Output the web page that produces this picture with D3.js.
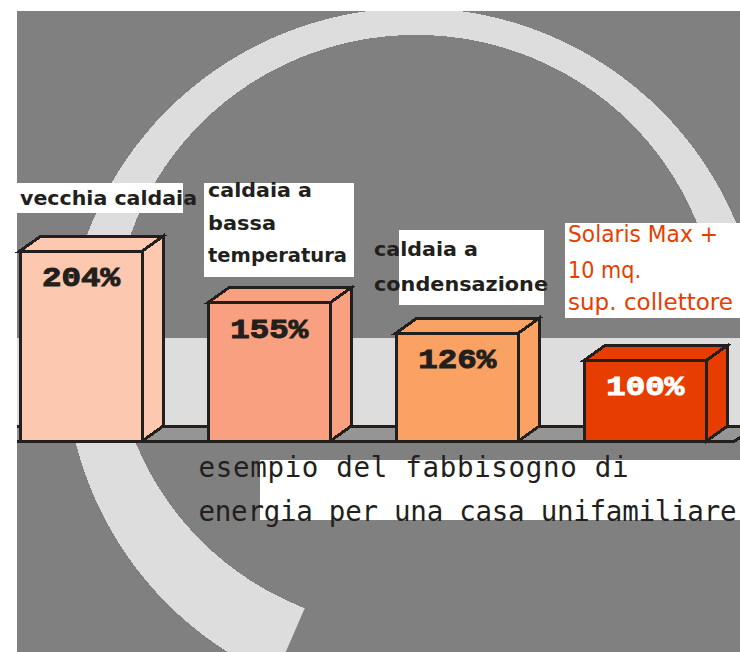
<!DOCTYPE html>
<html><head><meta charset="utf-8">
<script src="https://cdn.jsdelivr.net/npm/d3@7"></script>
<style>html,body{margin:0;padding:0;background:#fff;} svg{display:block}</style>
</head><body><svg id="c" width="740" height="652"></svg>
<script>
// ---------- data ----------
const categories = ["vecchia caldaia", "caldaia a bassa temperatura", "caldaia a condensazione", "Solaris Max + 10 mq. sup. collettore"];
const values = [204, 155, 126, 100];
const valueLabels = ["204%", "155%", "126%", "100%"];
const categoryLines = [["vecchia caldaia"], ["caldaia a", "bassa", "temperatura"], ["caldaia a", "condensazione"], ["Solaris Max +", "10 mq.", "sup. collettore"]];
const titleLines = ["esempio del fabbisogno di", "energia per una casa unifamiliare"];

// ---------- layout / style ----------
const W = 740, H = 652;
const svg = d3.select("#c");
const COL = {bg: "#808080", ring: "#dddddd", shelf: "#dddddd", floor: "#959595", ink: "#231f1c", red: "#e83d00"};
const fills = ["#fcc9b0", "#f9a081", "#f9a263", "#e83d00"];
const valueFills = ["#231f1c", "#231f1c", "#231f1c", "#ffffff"];
const labelColors = ["#231f1c", "#231f1c", "#231f1c", "#e83d00"];
const panel = {x: 17, y: 11};

const x = d3.scaleBand().domain(categories).range([20, 706.5]).paddingInner(0.35).paddingOuter(0);
const y = d3.scaleLinear().domain([0, 204]).range([465.5, 251]);
const base = 441, dX = 21, dY = -15;

const defs = svg.append("defs");
defs.append("clipPath").attr("id", "panelClip").append("rect")
  .attr("x", panel.x).attr("y", panel.y).attr("width", W - panel.x).attr("height", H - panel.y);

// background panel
svg.append("rect").attr("x", panel.x).attr("y", panel.y).attr("width", W - panel.x).attr("height", H - panel.y).attr("fill", COL.bg);

// decorative ring
const oc = {x: 414, y: 357, r: 349}, ic = {x: 416, y: 332, rx: 302, ry: 297};
const a0 = -156.5 * Math.PI / 180, a1 = 75 * Math.PI / 180;
const wedge = [[oc.x, oc.y]];
for (let a = a0; a < a1; a += 0.02) wedge.push([oc.x + 900 * Math.sin(a), oc.y - 900 * Math.cos(a)]);
wedge.push([oc.x + 900 * Math.sin(a1), oc.y - 900 * Math.cos(a1)]);
defs.append("clipPath").attr("id", "wedge").append("polygon").attr("points", wedge.map(p => p.join(",")).join(" "));
const ringPath = `M${oc.x - oc.r},${oc.y} a${oc.r},${oc.r} 0 1,0 ${2 * oc.r},0 a${oc.r},${oc.r} 0 1,0 ${-2 * oc.r},0 Z ` +
  `M${ic.x - ic.rx},${ic.y} a${ic.rx},${ic.ry} 0 1,0 ${2 * ic.rx},0 a${ic.rx},${ic.ry} 0 1,0 ${-2 * ic.rx},0 Z`;
svg.append("g").attr("clip-path", "url(#panelClip)")
  .append("g").attr("clip-path", "url(#wedge)")
  .append("path").attr("d", ringPath).attr("fill-rule", "evenodd").attr("fill", COL.ring)
  .attr("shape-rendering", "crispEdges");

// shelf + floor
const back = base + dY;
const stage = svg.append("g").attr("clip-path", "url(#panelClip)").attr("shape-rendering", "crispEdges");
stage.append("rect").attr("x", panel.x).attr("y", 338).attr("width", W - panel.x).attr("height", back - 338).attr("fill", COL.shelf);
const floorEnd = 735;
stage.append("polygon")
  .attr("points", [[panel.x, base], [floorEnd, base], [floorEnd + dX, back], [panel.x, back]].map(p => p.join(",")).join(" "))
  .attr("fill", COL.floor);
stage.append("path")
  .attr("d", `M${panel.x},${back}H${W + 20} M${panel.x},${base}H${floorEnd}L${floorEnd + dX},${back}`)
  .attr("fill", "none").attr("stroke", COL.ink).attr("stroke-width", 3);

// boxes
const boxes = svg.append("g").attr("shape-rendering", "crispEdges");
categories.forEach((c, i) => {
  const x0 = x(c), w = x.bandwidth(), yt = y(values[i]);
  const g = boxes.append("g").attr("fill", fills[i]).attr("stroke", COL.ink).attr("stroke-width", 3).attr("stroke-linejoin", "miter");
  g.append("polygon").attr("points", [[x0 + w, yt], [x0 + w + dX, yt + dY], [x0 + w + dX, base + dY], [x0 + w, base]].map(p => p.join(",")).join(" "));
  g.append("polygon").attr("points", [[x0, yt], [x0 + dX, yt + dY], [x0 + w + dX, yt + dY], [x0 + w, yt]].map(p => p.join(",")).join(" "));
  g.append("rect").attr("x", x0).attr("y", yt).attr("width", w).attr("height", base - yt);
  svg.append("text").attr("x", x0 + w / 2).attr("y", yt + 35)
    .attr("text-anchor", "middle").attr("font-family", "'Liberation Mono', monospace").attr("font-weight", "bold")
    .attr("font-size", 28).attr("textLength", 78).attr("lengthAdjust", "spacingAndGlyphs")
    .attr("fill", valueFills[i]).attr("stroke", valueFills[i]).attr("stroke-width", 1)
    .text(valueLabels[i]);
});

// category labels
const labelLayout = [
  {box: [17, 183, 166, 30], tx: 20, base: [205], widths: [177], size: 19, weight: "bold"},
  {box: [204, 183, 150, 94], tx: 208, base: [197, 230, 262], widths: [104, 68, 139], size: 19, weight: "bold"},
  {box: [399, 230, 145, 75], tx: 374, base: [256, 291], widths: [104, 174], size: 19, weight: "bold"},
  {box: [565, 223, 175, 95], tx: 568, base: [242, 278, 310], widths: [150, 73, 165], size: 23, weight: "normal"}
];
categoryLines.forEach((lines, i) => {
  const L = labelLayout[i];
  svg.append("rect").attr("x", L.box[0]).attr("y", L.box[1]).attr("width", L.box[2]).attr("height", L.box[3]).attr("fill", "#fff");
  lines.forEach((t, j) => {
    svg.append("text").attr("x", L.tx).attr("y", L.base[j])
      .attr("font-family", "'DejaVu Sans', sans-serif").attr("font-weight", L.weight).attr("font-size", L.size)
      .attr("textLength", L.widths[j]).attr("lengthAdjust", "spacingAndGlyphs")
      .attr("fill", labelColors[i]).text(t);
  });
});

// title
svg.append("rect").attr("x", 260).attr("y", 460).attr("width", W - 260).attr("height", 60).attr("fill", "#fff");
const titleWidths = [430, 538];
titleLines.forEach((t, j) => {
  svg.append("text").attr("x", 198.5).attr("y", 477 + j * 44)
    .attr("font-family", "'DejaVu Sans Mono', monospace").attr("font-size", 27.5)
    .attr("textLength", titleWidths[j]).attr("lengthAdjust", "spacing")
    .attr("fill", COL.ink).text(t);
});
</script>
</body></html>
